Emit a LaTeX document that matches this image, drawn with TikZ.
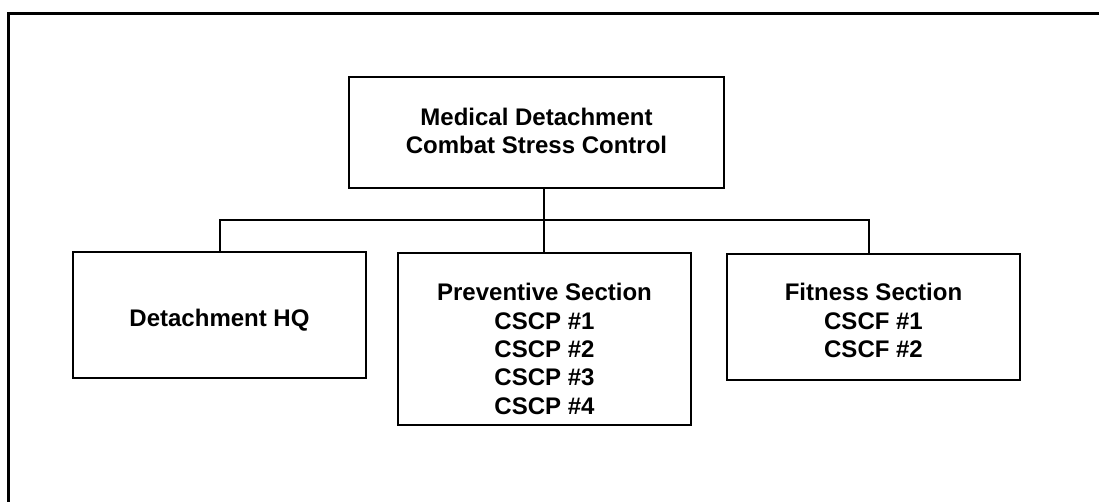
\documentclass[tikz,border=0pt]{standalone}
\usepackage{fontspec}
\setmainfont{Liberation Sans}
\begin{document}
\begin{tikzpicture}[x=1pt,y=-1pt,
  unit/.style={draw=black, line width=2pt, rectangle, inner sep=3pt, align=center,
    font=\fontsize{24}{28.3}\selectfont\bfseries},
  link/.style={draw=black, line width=2pt},
  frame/.style={draw=black, line width=3pt}]
\path[use as bounding box] (0,0) rectangle (1099,502);
\clip (0,0) rectangle (1099,502);
\draw[frame] (8,13.5) rectangle (1120,520);
\node[unit, minimum width=375pt, minimum height=111pt, text height=48pt, text depth=5pt] (top) at (536.5,132.5) {Medical Detachment\\Combat Stress Control};
\node[unit, minimum width=293pt, minimum height=126pt, text height=28.4pt, text depth=5pt] (hq) at (219.5,315) {Detachment HQ};
\node[unit, minimum width=293pt, minimum height=172pt, text height=155pt, text depth=5pt] (prev) at (544.5,339) {Preventive Section\\CSCP \#1\\CSCP \#2\\CSCP \#3\\CSCP \#4};
\node[unit, minimum width=293pt, minimum height=126pt, text height=85.6pt, text depth=5pt] (fit) at (873.5,317) {Fitness Section\\CSCF \#1\\CSCF \#2};
\coordinate (bus) at (544,220);
\coordinate (fitin) at ([xshift=-4.5pt]fit.north);
\draw[link] (top.south -| bus) -- (prev.north -| bus);
\draw[link] (hq.north) |- (bus) -| (fitin);
\end{tikzpicture}
\end{document}
